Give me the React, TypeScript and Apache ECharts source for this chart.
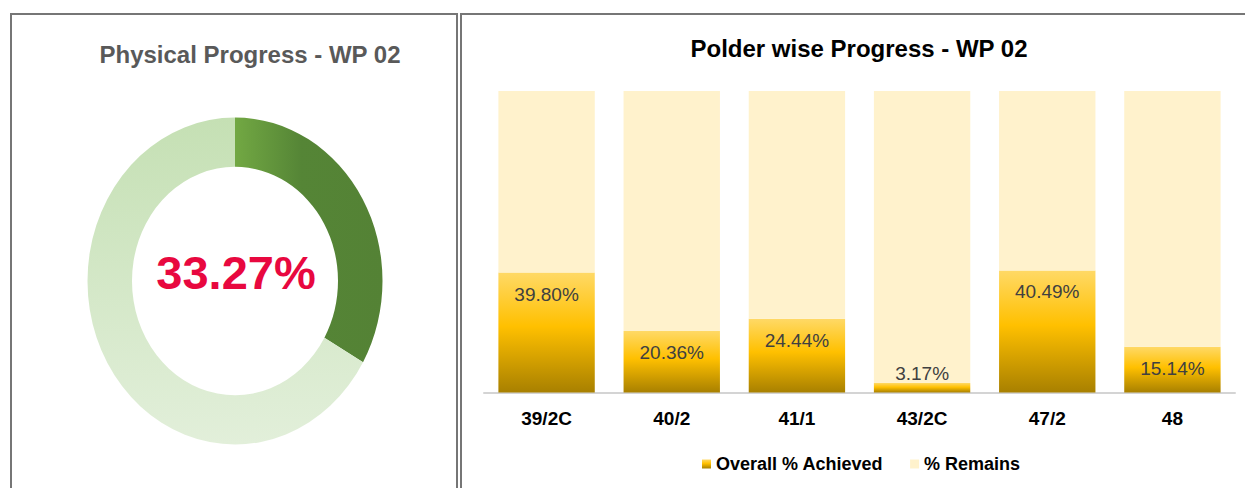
import React, { useEffect, useRef } from "react";
import * as echarts from "echarts";

const polders = ["39/2C", "40/2", "41/1", "43/2C", "47/2", "48"];
const achievedPct = [39.8, 20.36, 24.44, 3.17, 40.49, 15.14];
const remainsPct = [60.2, 79.64, 75.56, 96.83, 59.51, 84.86];
const overallNames = ["Achieved", "Remaining"];
const overallValues = [33.27, 66.73];

const FONT = "'Liberation Sans', Arial, sans-serif";

export default function App() {
  const mainRef = useRef<HTMLDivElement>(null);
  const pieRef = useRef<HTMLDivElement>(null);

  useEffect(() => {
    const main = echarts.init(mainRef.current!, undefined, { renderer: "svg" });
    const pie = echarts.init(pieRef.current!, undefined, { renderer: "svg" });

    const achievedGrad = new echarts.graphic.LinearGradient(0, 0, 0, 1, [
      { offset: 0, color: "#FFD966" },
      { offset: 0.45, color: "#FFC000" },
      { offset: 1, color: "#A88000" },
    ]);

    main.setOption({
      animation: false,
      textStyle: { fontFamily: FONT },
      graphic: [
        {
          type: "rect",
          shape: { x: 11, y: 14, width: 446, height: 600 },
          style: { fill: "none", stroke: "#767676", lineWidth: 2 },
          silent: true,
        },
        {
          type: "rect",
          shape: { x: 461, y: 14, width: 820, height: 600 },
          style: { fill: "none", stroke: "#767676", lineWidth: 2 },
          silent: true,
        },
        {
          type: "text",
          x: 250,
          y: 54,
          style: {
            text: "Physical Progress - WP 02",
            fill: "#595959",
            font: `bold 24px ${FONT}`,
            textAlign: "center",
            textVerticalAlign: "middle",
          },
        },
        {
          type: "text",
          x: 859,
          y: 48,
          style: {
            text: "Polder wise Progress - WP 02",
            fill: "#000000",
            font: `bold 24px ${FONT}`,
            textAlign: "center",
            textVerticalAlign: "middle",
          },
        },
        {
          type: "text",
          x: 236,
          y: 272,
          z: 100,
          style: {
            text: `${overallValues[0].toFixed(2)}%`,
            fill: "#E8083F",
            font: `bold 47px ${FONT}`,
            textAlign: "center",
            textVerticalAlign: "middle",
          },
        },
      ],
      legend: {
        left: 702,
        top: 455,
        itemWidth: 9,
        itemHeight: 9,
        itemGap: 27,
        icon: "rect",
        padding: 0,
        textStyle: { fontSize: 18, fontWeight: "bold", color: "#000", fontFamily: FONT },
        data: ["Overall % Achieved", "% Remains"],
      },
      grid: { left: 484, right: 10, top: 91, bottom: 95.5 },
      xAxis: {
        type: "category",
        data: polders,
        axisLine: { lineStyle: { color: "#D4D4D4", width: 2 } },
        axisTick: { show: false },
        axisLabel: {
          fontSize: 19,
          fontWeight: "bold",
          color: "#000",
          margin: 16,
          fontFamily: FONT,
        },
      },
      yAxis: {
        type: "value",
        min: 0,
        max: 100,
        show: false,
        splitLine: { show: false },
      },
      series: [
        {
          name: "Overall % Achieved",
          type: "bar",
          stack: "total",
          barCategoryGap: "23%",
          itemStyle: { color: achievedGrad },
          label: {
            show: true,
            position: "insideTop",
            distance: 12,
            fontSize: 19,
            color: "#404040",
            fontFamily: FONT,
            formatter: (p: any) => `${Number(p.value).toFixed(2)}%`,
          },
          data: achievedPct.map((v) =>
            v < 5 ? { value: v, label: { position: "top", distance: 0 } } : { value: v }
          ),
        },
        {
          name: "% Remains",
          type: "bar",
          stack: "total",
          barCategoryGap: "23%",
          itemStyle: { color: "#FFF2CC" },
          data: remainsPct,
        },
      ],
    });

    pie.setOption({
      animation: false,
      series: [
        {
          type: "pie",
          radius: [103, 147.5],
          center: ["50%", "50%"],
          startAngle: 90,
          clockwise: true,
          silent: true,
          label: { show: false },
          labelLine: { show: false },
          data: overallNames.map((n, i) => ({
            name: n,
            value: overallValues[i],
            itemStyle: {
              color:
                i === 0
                  ? new echarts.graphic.LinearGradient(0, 0, 1, 0, [
                      { offset: 0, color: "#72A843" },
                      { offset: 0.45, color: "#558536" },
                      { offset: 1, color: "#548235" },
                    ])
                  : new echarts.graphic.LinearGradient(0, 0, 0, 1, [
                      { offset: 0, color: "#C5E0B4" },
                      { offset: 1, color: "#E2EFDA" },
                    ]),
            },
          })),
        },
      ],
    });

    return () => {
      main.dispose();
      pie.dispose();
    };
  }, []);

  return (
    <div style={{ position: "absolute", left: 0, top: 0, width: 1245, height: 488, background: "#fff" }}>
      <div
        ref={pieRef}
        style={{
          position: "absolute",
          left: 84.5,
          top: 130.5,
          width: 300,
          height: 300,
          transform: "scaleY(1.1085)",
          transformOrigin: "50% 50%",
        }}
      />
      <div ref={mainRef} style={{ position: "absolute", left: 0, top: 0, width: 1245, height: 488 }} />
    </div>
  );
}
